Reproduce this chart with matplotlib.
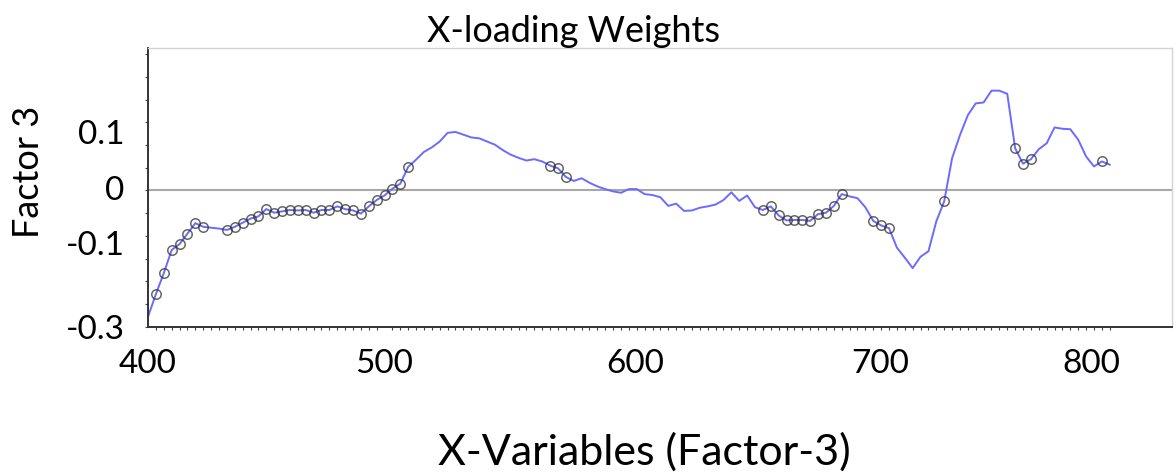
import numpy as np
import matplotlib
matplotlib.use('Agg')
import matplotlib.pyplot as plt

plt.rcParams['font.family'] = ['Lato', 'DejaVu Sans']

# X-loading weights, factor 3 (one value per X-variable, 400 nm upwards in 10/3 nm steps)
w3 = [
    -0.278, -0.228, -0.182, -0.131, -0.118, -0.095, -0.072, -0.080, -0.082, -0.084,
    -0.087, -0.080, -0.071, -0.062, -0.057, -0.041, -0.049, -0.046, -0.043, -0.044,
    -0.043, -0.049, -0.043, -0.043, -0.035, -0.041, -0.044, -0.051, -0.035, -0.021,
    -0.011, 0.004, 0.015, 0.052, 0.068, 0.085, 0.095, 0.108, 0.127, 0.129,
    0.123, 0.117, 0.115, 0.108, 0.101, 0.089, 0.079, 0.072, 0.066, 0.069,
    0.064, 0.055, 0.049, 0.030, 0.021, 0.027, 0.017, 0.009, 0.003, -0.002,
    -0.005, 0.003, 0.003, -0.008, -0.010, -0.015, -0.034, -0.029, -0.045, -0.044,
    -0.038, -0.035, -0.031, -0.021, -0.004, -0.023, -0.011, -0.037, -0.043, -0.035,
    -0.055, -0.066, -0.065, -0.065, -0.067, -0.052, -0.049, -0.034, -0.008, -0.013,
    -0.017, -0.037, -0.067, -0.077, -0.083, -0.126, -0.148, -0.171, -0.146, -0.134,
    -0.068, -0.024, 0.071, 0.122, 0.166, 0.192, 0.194, 0.220, 0.220, 0.213,
    0.093, 0.059, 0.069, 0.091, 0.104, 0.139, 0.136, 0.135, 0.112, 0.075,
    0.053, 0.064, 0.057,
]
wavelength = 400 + np.arange(len(w3)) * 10 / 3

# variables flagged as significant (circled in the plot)
marked = (list(range(1, 8)) + list(range(10, 34)) + [51, 52, 53]
          + list(range(78, 89)) + [92, 93, 94, 101, 110, 111, 112, 121])

xtick_pos = [400, 500, 606, 709.5, 799]
xtick_text = ['400', '500', '600', '700', '800']
ytick_pos = [0.13, 0.005, -0.115, -0.301]
ytick_text = ['0.1', '0', '-0.1', '-0.3']

fig = plt.figure(figsize=(11.76, 4.74), dpi=100)
ax = fig.add_axes([0.1259, 0.310, 0.8707, 0.5887])

ax.axhline(0, color='#a8a8a8', lw=1.5, zorder=1)
ax.plot(wavelength, w3, color='#6b6bff', lw=1.4, zorder=2)
w3_arr = np.array(w3)
ax.plot(wavelength[marked], w3_arr[marked], linestyle='none', marker='o',
        markersize=6.8, markerfacecolor='none', markeredgecolor='#333333',
        markeredgewidth=1.1, alpha=0.75, zorder=3)

ax.set_xlim(400, 833)
ax.set_ylim(-0.3, 0.314)

ax.set_xticks(xtick_pos)
ax.set_xticklabels(xtick_text, fontsize=24)
ax.set_xticks(wavelength, minor=True)
ax.set_yticks(ytick_pos)
ax.set_yticklabels(ytick_text, fontsize=24)
ax.set_yticks(np.arange(-0.3, 0.31, 0.05), minor=True)
ax.tick_params(which='major', length=0)
ax.tick_params(axis='x', which='major', pad=16)
ax.tick_params(axis='y', which='major', pad=17)
ax.tick_params(which='minor', length=2.5, width=0.8, color='#444444', direction='out')

for side in ['left', 'bottom']:
    ax.spines[side].set_color('#333333')
    ax.spines[side].set_linewidth(1.4)
for side in ['top', 'right']:
    ax.spines[side].set_color('#d4d4d4')
    ax.spines[side].set_linewidth(1.0)

fig.text(0.488, 0.911, 'X-loading Weights', ha='center', va='baseline', fontsize=26)
fig.text(0.548, 0.019, 'X-Variables (Factor-3)', ha='center', va='baseline', fontsize=31)
fig.text(0.024, 0.637, 'Factor 3', ha='center', va='center', rotation=90, fontsize=26)

fig.savefig('out.png', dpi=100)
